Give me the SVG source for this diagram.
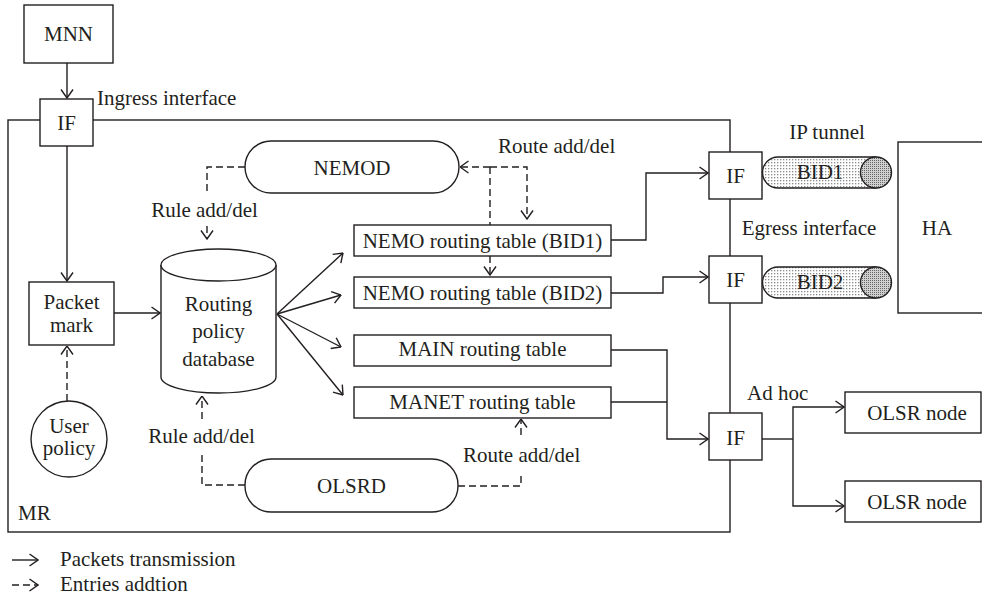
<svg xmlns="http://www.w3.org/2000/svg" width="982" height="615" viewBox="0 0 982 615">
<style>
.b{fill:#fff;stroke:#231f20;stroke-width:1.4}
.t{font-family:"Liberation Serif","Times New Roman",serif;font-size:21px;fill:#231f20}
.m{text-anchor:middle}
.c{fill:none;stroke:#231f20;stroke-width:1.4}
.d{fill:none;stroke:#231f20;stroke-width:1.4;stroke-dasharray:7,4}
</style>
<defs>
<marker id="a" viewBox="0 0 10 14" refX="9.5" refY="7" markerWidth="10" markerHeight="14" markerUnits="userSpaceOnUse" orient="auto">
<path d="M1,1 L9.5,7 L1,13" fill="none" stroke="#231f20" stroke-width="1.4"/>
</marker>
<pattern id="p1" width="3" height="3" patternUnits="userSpaceOnUse">
<rect width="3" height="3" fill="#fff"/><rect width="1.3" height="1.3" fill="#8a8a8a"/>
</pattern>
<pattern id="p2" width="2" height="2" patternUnits="userSpaceOnUse">
<rect width="2" height="2" fill="#d0d0d0"/><rect width="1" height="1" fill="#666"/>
</pattern>
</defs>
<rect width="982" height="615" fill="#fff"/>

<g id="mr">
<rect x="8" y="120" width="722" height="412" class="b"/>
<text x="18" y="520" class="t">MR</text>
</g>

<g id="mnn"><rect x="24" y="5" width="89" height="58" class="b"/><text x="68.5" y="41" class="t m">MNN</text></g>
<g id="if-ingress"><rect x="40" y="99" width="53" height="47" class="b"/><text x="66.5" y="130" class="t m">IF</text></g>
<g id="packet-mark"><rect x="29" y="282" width="85" height="63" class="b"/><text x="71.5" y="309" class="t m">Packet</text><text x="71.5" y="332" class="t m">mark</text></g>
<g id="user-policy"><circle cx="69" cy="439" r="38" class="b"/><text x="69" y="433" class="t m">User</text><text x="69" y="455" class="t m">policy</text></g>
<g id="rpdb">
<path d="M161,265 V377 A57.5,16 0 0 0 276,377 V265" class="b"/>
<ellipse cx="218.5" cy="265" rx="57.5" ry="16" class="b"/>
<text x="218.5" y="311" class="t m">Routing</text><text x="218.5" y="338" class="t m">policy</text><text x="218.5" y="366" class="t m">database</text>
</g>
<g id="nemod"><rect x="245" y="141" width="214" height="52" rx="26" class="b"/><text x="352" y="174.5" class="t m">NEMOD</text></g>
<g id="olsrd"><rect x="245" y="459" width="213" height="53" rx="26" class="b"/><text x="351.5" y="493" class="t m">OLSRD</text></g>
<g id="nemo-bid1"><rect x="354" y="225" width="257" height="31" class="b"/><text x="482.5" y="248" class="t m">NEMO routing table (BID1)</text></g>
<g id="nemo-bid2"><rect x="354" y="277" width="257" height="31" class="b"/><text x="482.5" y="300" class="t m">NEMO routing table (BID2)</text></g>
<g id="main-table"><rect x="354" y="335" width="257" height="31" class="b"/><text x="482.5" y="356" class="t m">MAIN routing table</text></g>
<g id="manet-table"><rect x="354" y="387" width="257" height="31" class="b"/><text x="482.5" y="409" class="t m">MANET routing table</text></g>
<g id="if1"><rect x="709" y="152" width="53" height="47" class="b"/><text x="735.5" y="183" class="t m">IF</text></g>
<g id="if2"><rect x="709" y="256" width="53" height="47" class="b"/><text x="735.5" y="287" class="t m">IF</text></g>
<g id="if3"><rect x="709" y="413" width="53" height="47" class="b"/><text x="735.5" y="444.5" class="t m">IF</text></g>
<g id="tunnel1">
<path d="M778,157 H876 V188 H778 A15.5,15.5 0 0 1 778,157 Z" fill="url(#p1)" stroke="#231f20" stroke-width="1.4"/>
<circle cx="876" cy="172.5" r="15.5" fill="url(#p2)" stroke="#231f20" stroke-width="1.4"/>
<text x="820" y="179" class="t m">BID1</text>
</g>
<g id="tunnel2">
<path d="M778,267 H876 V298 H778 A15.5,15.5 0 0 1 778,267 Z" fill="url(#p1)" stroke="#231f20" stroke-width="1.4"/>
<circle cx="876" cy="282.5" r="15.5" fill="url(#p2)" stroke="#231f20" stroke-width="1.4"/>
<text x="820" y="289" class="t m">BID2</text>
</g>
<g id="ha"><rect x="898" y="142" width="100" height="171" class="b"/><text x="937" y="235" class="t m">HA</text></g>
<g id="olsr1"><rect x="845" y="392" width="136" height="41" class="b"/><text x="917" y="420" class="t m">OLSR node</text></g>
<g id="olsr2"><rect x="845" y="481" width="136" height="41" class="b"/><text x="917" y="509" class="t m">OLSR node</text></g>

<g id="labels">
<text x="97" y="105" class="t">Ingress interface</text>
<text x="204.5" y="217" class="t m">Rule add/del</text>
<text x="201.5" y="443" class="t m">Rule add/del</text>
<text x="498" y="153" class="t">Route add/del</text>
<text x="463" y="462" class="t">Route add/del</text>
<text x="827" y="139" class="t m">IP tunnel</text>
<text x="809" y="235" class="t m">Egress interface</text>
<text x="747" y="400" class="t">Ad hoc</text>
</g>

<g id="connectors">
<path d="M67,63 V98" class="c" marker-end="url(#a)"/>
<path d="M67,146 V281" class="c" marker-end="url(#a)"/>
<path d="M114,313 H160" class="c" marker-end="url(#a)"/>
<path d="M67,401 V346" class="d" marker-end="url(#a)"/>
<path d="M277,314 L343,253" class="c" marker-end="url(#a)"/>
<path d="M277,314 L341,295" class="c" marker-end="url(#a)"/>
<path d="M277,314 L341,347" class="c" marker-end="url(#a)"/>
<path d="M277,314 L343,395" class="c" marker-end="url(#a)"/>
<path d="M245,167 H207 V193" class="d"/>
<path d="M207,226 V239" class="d" marker-end="url(#a)"/>
<path d="M245,485 H202 V453" class="d"/>
<path d="M202,419 V396" class="d" marker-end="url(#a)"/>
<path d="M490,167 H460" class="d" marker-end="url(#a)"/>
<path d="M490,167 H527 V219" class="d" marker-end="url(#a)"/>
<path d="M490,167 V225" class="d"/>
<path d="M490,256 V275" class="d" marker-end="url(#a)"/>
<path d="M458,486 H521 V476" class="d"/>
<path d="M521,435 V419" class="d" marker-end="url(#a)"/>
<path d="M611,240 H646 V173 H708" class="c" marker-end="url(#a)"/>
<path d="M611,293 H663 V277 H708" class="c" marker-end="url(#a)"/>
<path d="M611,350 H667 V439 H708" class="c" marker-end="url(#a)"/>
<path d="M611,402 H667" class="c"/>
<path d="M762,439 H793" class="c"/>
<path d="M793,439 V407 H844" class="c" marker-end="url(#a)"/>
<path d="M793,439 V506 H844" class="c" marker-end="url(#a)"/>
</g>

<g id="legend">
<path d="M12,560 H38" class="c" marker-end="url(#a)"/>
<text x="60" y="566" class="t">Packets transmission</text>
<path d="M12,585 H38" class="d" stroke-dasharray="5,4" marker-end="url(#a)"/>
<text x="60" y="591" class="t">Entries addtion</text>
</g>
</svg>
